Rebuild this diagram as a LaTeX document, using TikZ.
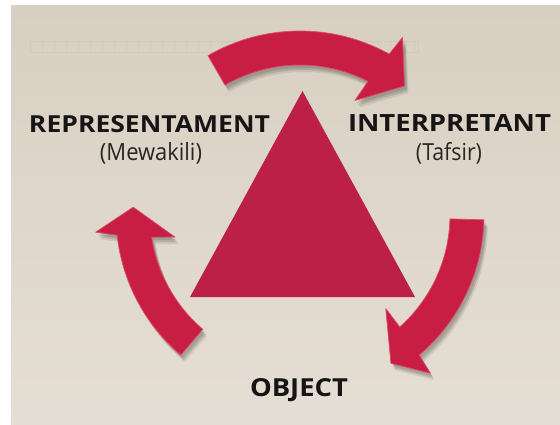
\documentclass[tikz,border=0pt]{standalone}
\usepackage{fontspec}
\setmainfont{Open Sans}
\usepackage{graphicx}
\definecolor{bgtop}{RGB}{215,207,193}
\definecolor{bgmid}{RGB}{223,215,203}
\definecolor{bgbot}{RGB}{229,222,212}
\definecolor{arrowred}{RGB}{200,30,68}
\definecolor{edgered}{RGB}{222,72,104}
\definecolor{trired}{RGB}{189,32,70}
\definecolor{txtdark}{RGB}{22,20,20}
\definecolor{txtsub}{RGB}{40,37,35}
\definecolor{bandline}{RGB}{198,190,178}
% #1 tail angle, #2 outer neck, #3 inner neck, #4 outer barb, #5 inner barb, #6 tip angle, #7 tip radius, #8 style
\newcommand\cyclearrow[8]{%
  \path[#8] (#1:184) arc[start angle=#1, end angle=#2, radius=184]
    -- (#4:205) -- (#6:#7) -- (#5:127) -- (#3:150)
    arc[start angle=#3, end angle=#1, radius=150] -- cycle;}
\newcommand\shadowedarrow[7]{%
  \begin{scope}[shift={(2,-3)}]\cyclearrow{#1}{#2}{#3}{#4}{#5}{#6}{#7}{fill=black,opacity=0.10}\end{scope}
  \begin{scope}[shift={(3,-5)}]\cyclearrow{#1}{#2}{#3}{#4}{#5}{#6}{#7}{fill=black,opacity=0.12}\end{scope}
  \begin{scope}[shift={(4,-7)}]\cyclearrow{#1}{#2}{#3}{#4}{#5}{#6}{#7}{fill=black,opacity=0.08}\end{scope}
  \cyclearrow{#1}{#2}{#3}{#4}{#5}{#6}{#7}{arrowbody}}
\begin{document}
\begin{tikzpicture}[x=1pt,y=1pt,
  arrowbody/.style={fill=arrowred,draw=edgered,line width=0.7pt,line join=round},
  mainlabel/.style={inner sep=0pt,anchor=base,text=txtdark,font=\bfseries},
  sublabel/.style={inner sep=0pt,anchor=base,text=txtsub}]
\useasboundingbox (0,0) rectangle (560,424);
\fill[white] (0,0) rectangle (560,424);
\shade[top color=bgtop,bottom color=bgbot,middle color=bgmid] (11,0) rectangle (560,418);
% faint ruler-like band of the background texture
\draw[bandline,opacity=0.4,line width=0.6pt] (30,372) rectangle (418,383);
\foreach \t in {42,54,...,414} \draw[bandline,opacity=0.3,line width=0.5pt] (\t,372) -- (\t,383);
% central triangle
\fill[trired] (190,127) coordinate (triL) -- (415,127) coordinate (triR) -- (302.5,333) coordinate (triT) -- cycle;
% cycle arrows around the centre
\begin{scope}[shift={(300,209)}]
  \shadowedarrow{120}{61}{63}{60}{64.4}{51}{166}
  \shadowedarrow{229.6}{186.3}{188.5}{184.8}{190}{177.3}{167}
  \shadowedarrow{-1.5}{-49.6}{-48.3}{-50.5}{-47.5}{-58.5}{174}
\end{scope}
% labels
\node[mainlabel] (rep) at (149.5,291) {\resizebox{241pt}{17pt}{REPRESENTAMENT}};
\node[sublabel] (repsub) at (151,264) {\resizebox{102pt}{18pt}{(Mewakili)}};
\node[mainlabel] (int) at (449.5,292) {\resizebox{203pt}{17pt}{INTERPRETANT}};
\node[sublabel] (intsub) at (449,264) {\resizebox{66pt}{18pt}{(Tafsir)}};
\node[mainlabel] (obj) at (299,28) {\resizebox{98pt}{18pt}{OBJECT}};
\end{tikzpicture}
\end{document}
